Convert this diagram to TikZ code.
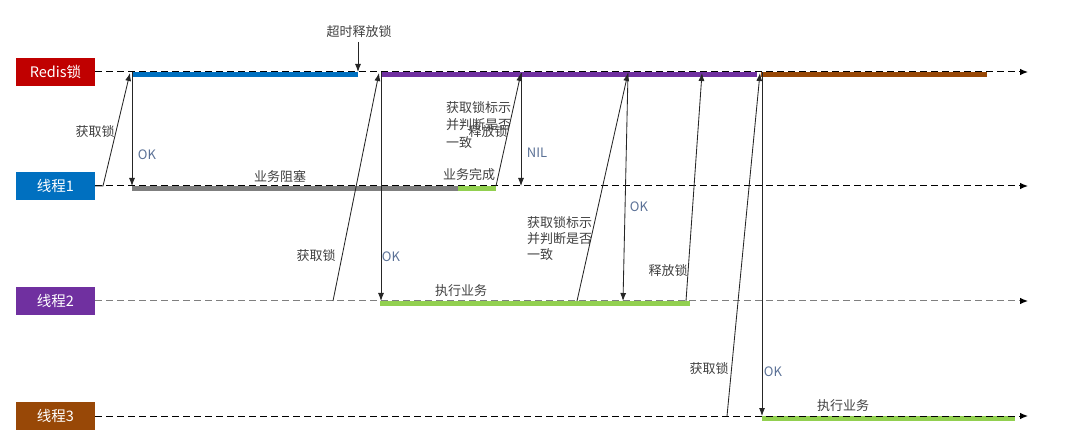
\documentclass[tikz,border=0pt]{standalone}
\usepackage{fontspec}
\setmainfont{Noto Sans CJK SC}
\usetikzlibrary{arrows.meta}
\definecolor{cRed}{HTML}{C00000}
\definecolor{cBlue}{HTML}{0070C0}
\definecolor{cPurple}{HTML}{7030A0}
\definecolor{cBrown}{HTML}{984807}
\definecolor{cGreen}{HTML}{92D050}
\definecolor{cGray}{HTML}{7F7F7F}
\definecolor{cText}{HTML}{404040}
\definecolor{cOK}{HTML}{5B7196}
\begin{document}
\begin{tikzpicture}[x=1pt,y=-1pt,
  lane/.style={minimum width=79pt, minimum height=28pt, inner sep=0pt, text=white, font=\fontsize{14.5}{16}\selectfont},
  tl/.style={dash pattern=on 7pt off 4pt, line width=1pt, -{Latex[length=8pt,width=6.5pt,color=black]}},
  msg/.style={line width=0.85pt, draw=black!85, -{Latex[length=8pt,width=6pt]}},
  bar/.style={line width=4.5pt},
  lbl/.style={text=cText, font=\fontsize{13}{15}\selectfont, inner sep=0pt},
  ok/.style={text=cOK, font=\fontsize{13}{15}\selectfont, inner sep=0pt}]
\useasboundingbox (0,0) rectangle (1081,443);

% lane boxes
\node[lane, fill=cRed] (r) at (55.5,72) {Redis锁};
\node[lane, fill=cBlue] (t1) at (55.5,186) {线程1};
\node[lane, fill=cPurple] (t2) at (55.5,301) {线程2};
\node[lane, fill=cBrown] (t3) at (55.5,416) {线程3};

\coordinate (rE) at (1028,72);
\coordinate (t1E) at (1028,186);
\coordinate (t2E) at (1028,301);
\coordinate (t3E) at (1028,416);

% bars
\draw[bar, cBlue] (132,74.5) -- (358,74.5);
\draw[bar, cPurple] (381,74.5) -- (757,74.5);
\draw[bar, cBrown] (761,74.5) -- (987,74.5);
\draw[bar, cGray] (132,188.5) -- (458,188.5);
\draw[bar, cGreen] (458,188.5) -- (496,188.5);
\draw[bar, cGreen] (380,303.5) -- (690,303.5);
\draw[bar, cGreen] (762,418.5) -- (1015,418.5);

% timelines
\draw[tl, black] (r.east) -- (rE);
\draw[tl, black] (t1.east) -- (t1E);
\draw[tl, cGray] (t2.east) -- (t2E);
\draw[tl, black] (t3.east) -- (t3E);

% coordinates on lines
\coordinate (a1b) at (103,186);
\coordinate (a1t) at (130,73);
\coordinate (ok1t) at (132,72);
\coordinate (ok1b) at (132,186);
\coordinate (toT) at (358,42);
\coordinate (toB) at (358,72);
\coordinate (a2b) at (333,301);
\coordinate (a2t) at (379,73);
\coordinate (ok2t) at (381,72);
\coordinate (ok2b) at (381,301);
\coordinate (rl1b) at (496,186);
\coordinate (rl1t) at (521,73);
\coordinate (nilb) at (521,186);
\coordinate (chk2b) at (577,301);
\coordinate (chk2t) at (628,73);
\coordinate (ok3b) at (623,301);
\coordinate (rl2b) at (686,301);
\coordinate (rl2t) at (702,73);
\coordinate (a3b) at (727,416);
\coordinate (a3t) at (760,73);
\coordinate (ok4t) at (762,72);
\coordinate (ok4b) at (762,416);

% messages
\draw[msg] (t1.east) -- (a1b) -- (a1t);
\draw[msg] (ok1t) -- (ok1b);
\draw[msg] (toT) -- (toB);
\draw[msg] (a2b) -- (a2t);
\draw[msg] (ok2t) -- (ok2b);
\draw[msg] (rl1b) -- (rl1t);
\draw[msg] (rl1t) -- (nilb);
\draw[msg] (chk2b) -- (chk2t);
\draw[msg] (chk2t) -- (ok3b);
\draw[msg] (rl2b) -- (rl2t);
\draw[msg] (a3b) -- (a3t);
\draw[msg] (ok4t) -- (ok4b);

% labels
\node[lbl] (l1) at (95,132) {获取锁};
\node[ok] (o1) at (147,155) {OK};
\node[lbl] (l2) at (359,32) {超时释放锁};
\node[lbl] (l3) at (280,177) {业务阻塞};
\node[lbl] (l4) at (469,175) {业务完成};
\node[lbl, align=left, anchor=north west, font=\fontsize{13}{17.5}\selectfont] (l5) at (446,101) {获取锁标示\\并判断是否\\一致};
\node[lbl] (l6) at (488,132) {释放锁};
\node[ok] (o2) at (537,153) {NIL};
\node[lbl] (l7) at (316,256) {获取锁};
\node[ok] (o3) at (391,257) {OK};
\node[lbl] (l8) at (461,291) {执行业务};
\node[lbl, align=left, anchor=north west, font=\fontsize{13}{16}\selectfont] (l9) at (527,216) {获取锁标示\\并判断是否\\一致};
\node[ok] (o4) at (639,207) {OK};
\node[lbl] (l10) at (668,271) {释放锁};
\node[lbl] (l11) at (709,369) {获取锁};
\node[ok] (o5) at (773,372) {OK};
\node[lbl] (l12) at (843,406) {执行业务};
\end{tikzpicture}
\end{document}
